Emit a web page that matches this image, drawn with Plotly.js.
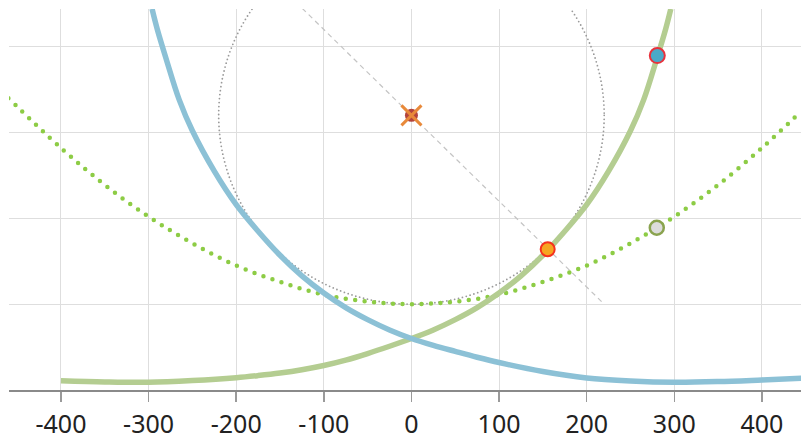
<!DOCTYPE html>
<html>
<head>
<meta charset="utf-8">
<script src="https://cdn.plot.ly/plotly-3.0.1.min.js"></script>
<style>
  html, body { margin: 0; padding: 0; background: #fff; }
  #chart { width: 801px; height: 441px; }
</style>
</head>
<body>
<div id="chart"></div>
<script>
// Focus circle and the diameter drawn through it
const focusX = [0];
const focusY = [320];
const circleRadius = [220];
const diameterX = [-220, 220];
const diameterY = [540, 100];

// Dotted parabola
const parabolaX = [-460, -400, -350, -300, -250, -200, -150, -100, -50, 0, 50, 100, 150, 200, 250, 300, 350, 400, 445];
const parabolaY = [340, 282, 239, 202, 171, 145, 126, 111, 103, 100, 103, 111, 126, 145, 171, 202, 239, 282, 325];

// Rising curve (green)
const risingX = [-400, -350, -300, -250, -200, -175, -150, -125, -100, -75, -50, -25, 0, 25, 50, 75, 100, 125, 150, 175, 200, 225, 250, 265, 280, 290, 296];
const risingY = [10.8, 9.4, 9, 11, 14.3, 16.8, 19.8, 23.6, 28.5, 34.8, 42.5, 51, 60, 70, 82, 96, 113, 133, 157, 185, 216, 255, 302, 338, 386, 420, 444];

// Falling curve (blue)
const fallingX = [-296, -290, -280, -265, -250, -225, -200, -175, -150, -125, -100, -75, -50, -25, 0, 25, 50, 75, 100, 150, 200, 250, 300, 350, 400, 445];
const fallingY = [444, 420, 386, 338, 302, 255, 216, 185, 157, 133, 113, 96, 82, 70, 60, 52, 45, 38.2, 32, 21.5, 14, 10.5, 9, 9.8, 11.7, 13.6];

// Highlighted points
const crossPointX = [155.5];
const crossPointY = [164];
const highPointX = [280.6];
const highPointY = [389.6];
const openPointX = [280];
const openPointY = [189];

const xTicks = [-400, -300, -200, -100, 0, 100, 200, 300, 400];
const xTickLabels = ['-400', '-300', '-200', '-100', '0', '100', '200', '300', '400'];

const traces = [
  { // diameter through the focus
    x: diameterX, y: diameterY, mode: 'lines', hoverinfo: 'skip',
    line: { color: '#c4c4c4', width: 1.2, dash: '5px,4px' }
  },
  { // parabola
    x: parabolaX, y: parabolaY, mode: 'lines', hoverinfo: 'skip',
    line: { color: '#8dcc45', width: 4.5, dash: '0px,9.5px', shape: 'spline' }
  },
  {
    x: risingX, y: risingY, mode: 'lines', hoverinfo: 'skip',
    line: { color: '#b4cd91', width: 5.5, shape: 'spline', smoothing: 1 }
  },
  {
    x: fallingX, y: fallingY, mode: 'lines', hoverinfo: 'skip',
    line: { color: '#8cc1d6', width: 5.5, shape: 'spline', smoothing: 1 }
  },
  { // focus
    x: focusX, y: focusY, mode: 'markers', hoverinfo: 'skip',
    marker: { color: '#b3443d', size: 13, line: { width: 0 } }
  },
  {
    x: focusX, y: focusY, mode: 'markers', hoverinfo: 'skip',
    marker: { symbol: 'x-thin', size: 20, line: { color: '#e8893a', width: 3 } }
  },
  {
    x: openPointX, y: openPointY, mode: 'markers', hoverinfo: 'skip',
    marker: { color: '#dcdcdc', size: 14, line: { color: '#8aa34f', width: 2.5 } }
  },
  {
    x: crossPointX, y: crossPointY, mode: 'markers', hoverinfo: 'skip',
    marker: { color: '#f6a520', size: 14, line: { color: '#f5321e', width: 2 } }
  },
  {
    x: highPointX, y: highPointY, mode: 'markers', hoverinfo: 'skip',
    marker: { color: '#4aa9c8', size: 15, line: { color: '#e8323c', width: 2 } }
  }
];

const layout = {
  width: 801, height: 441,
  margin: { l: 9, r: 0, t: 9, b: 51, pad: 0 },
  paper_bgcolor: '#ffffff', plot_bgcolor: '#ffffff',
  showlegend: false,
  xaxis: {
    range: [-459.3, 444.6],
    tickvals: xTicks, ticktext: xTickLabels,
    showgrid: true, gridcolor: '#dedede', gridwidth: 1,
    zeroline: false,
    showline: true, linecolor: '#8a8a8a', linewidth: 1.5,
    ticks: 'outside', ticklen: 10, tickcolor: '#9a9a9a', tickwidth: 1.5,
    ticklabelstandoff: 1,
    tickfont: { family: 'Noto Sans, Open Sans, sans-serif', size: 25, color: '#222' },
    fixedrange: true
  },
  yaxis: {
    range: [0, 443.9],
    dtick: 100, tick0: 0,
    showgrid: true, gridcolor: '#dedede', gridwidth: 1,
    zeroline: false, showline: false,
    showticklabels: false, ticks: '',
    fixedrange: true
  },
  shapes: [{
    type: 'circle', xref: 'x', yref: 'y', layer: 'between',
    x0: focusX[0] - circleRadius[0], x1: focusX[0] + circleRadius[0],
    y0: focusY[0] - circleRadius[0], y1: focusY[0] + circleRadius[0],
    line: { color: '#9a9a9a', width: 1.8, dash: '0px,4px' }
  }]
};

Plotly.newPlot('chart', traces, layout, { staticPlot: true, displayModeBar: false }).then(function (gd) {
  // round the dash caps so the dotted strokes read as dots
  const lines = gd.querySelectorAll('.scatterlayer .trace path.js-line');
  if (lines[1]) lines[1].style.strokeLinecap = 'round';
  gd.querySelectorAll('.shapelayer path').forEach(function (p) { p.style.strokeLinecap = 'round'; });
});
</script>
</body>
</html>
